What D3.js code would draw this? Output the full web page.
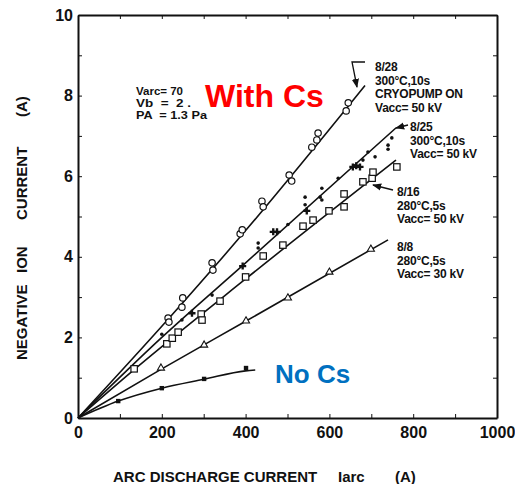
<!DOCTYPE html>
<html>
<head>
  <meta charset="utf-8">
  <title>Negative ion current vs arc discharge current</title>
  <script src="https://d3js.org/d3.v7.min.js"></script>
  <style>
    body { margin: 0; background: #fff; }
    text { font-family: "Liberation Sans", Arial, sans-serif; }
    .axis text { font-size: 16px; font-weight: bold; fill: #111; }
    .axis path, .axis line { stroke: #111; }
    .note { font-size: 12px; font-weight: bold; fill: #111; letter-spacing: -0.2px; }
    .cond { font-size: 10px; font-weight: bold; fill: #111; }
    .title { font-size: 15px; font-weight: bold; fill: #111; }
  </style>
</head>
<body>
<svg class="chart" width="515" height="484"></svg>

<script>
// values: [arc current (A), ion current (A)]
var s828 = [[215,2.48],[217,2.38],[250,2.98],[248,2.75],[320,3.85],[322,3.67],[387,4.57],[392,4.67],
            [439,5.38],[442,5.24],[504,6.03],[510,5.88],[558,6.72],[570,6.90],[573,7.07],[640,7.62],[645,7.82]];
var s825dots = [[200,2.08],[248,2.43],[320,3.05],[430,4.34],[430,4.22],[501,4.80],[542,5.48],[542,5.29],
                [582,5.70],[582,5.41],[578,5.48],[621,5.95],[680,6.40],[692,6.60],[709,6.48],[740,6.77],[740,6.67],[749,6.95]];
var s825cross = [[272,2.60],[393,3.77],[466,4.62],[475,4.62],[546,5.14],[656,6.23],[664,6.26],[673,6.23]];
var s816 = [[134,1.22],[212,1.84],[225,1.98],[239,2.13],[294,2.58],[296,2.43],[339,2.90],[400,3.50],[442,4.02],
            [489,4.29],[537,4.76],[561,4.91],[599,5.14],[635,5.56],[635,5.24],[680,5.86],[702,5.95],[704,6.10],[761,6.23]];
var s88 = [[198,1.24],[301,1.81],[401,2.41],[501,2.98],[600,3.62],[699,4.19]];
var noCs = [[96,0.42],[200,0.74],[301,0.97],[401,1.24]];

// hand-drawn fit curves
var fit828 = [[0,0],[215,2.45],[400,4.65],[685,8.25]];
var fit825 = [[0,0],[200,2.0],[400,3.85],[759,7.2]];
var fit816 = [[0,0],[134,1.2],[400,3.45],[759,6.4]];
var fit88  = [[0,0],[200,1.22],[400,2.4],[740,4.42]];
var fitNoCs = [[0,0],[96,0.42],[200,0.74],[300,0.96],[400,1.17],[423,1.19]];

var xTicks = d3.range(0, 1001, 100);
var yTicks = d3.range(0, 11, 1);

var svg = d3.select(".chart");

var x = d3.scaleLinear().domain([0, 1000]).range([78, 497]);
var y = d3.scaleLinear().domain([0, 10]).range([418, 15]);

// frame with inward ticks on all four sides
svg.append("g").attr("class", "axis")
    .attr("transform", "translate(0," + y(0) + ")")
    .call(d3.axisBottom(x).tickValues(xTicks).tickSizeInner(-4).tickSizeOuter(0).tickPadding(9)
      .tickFormat(function(d) { return d % 200 === 0 ? d : ""; }));
svg.append("g").attr("class", "axis")
    .attr("transform", "translate(" + x(0) + ",0)")
    .call(d3.axisLeft(y).tickValues(yTicks).tickSizeInner(-4).tickSizeOuter(0).tickPadding(5)
      .tickFormat(function(d) { return d % 2 === 0 ? d : ""; }));
svg.append("g").attr("class", "axis")
    .attr("transform", "translate(0," + y(10) + ")")
    .call(d3.axisTop(x).tickValues(xTicks).tickSizeInner(-4).tickSizeOuter(0).tickFormat(""));
svg.append("g").attr("class", "axis")
    .attr("transform", "translate(" + x(1000) + ",0)")
    .call(d3.axisRight(y).tickValues(yTicks).tickSizeInner(-4).tickSizeOuter(0).tickFormat(""));
svg.selectAll(".axis path.domain").attr("stroke-width", 2);

// axis titles, placed word group by word group like the original
[["ARC DISCHARGE CURRENT", 113], ["Iarc", 338], ["(A)", 395]].forEach(function(t) {
  svg.append("text").attr("class", "title").attr("x", t[1]).attr("y", 482).text(t[0]);
});
[["NEGATIVE", 360], ["ION", 273], ["CURRENT", 220], ["(A)", 117]].forEach(function(t) {
  svg.append("text").attr("class", "title")
      .attr("transform", "translate(27," + t[1] + ") rotate(-90)").text(t[0]);
});

// fit lines
var line = d3.line()
    .x(function(d) { return x(d[0]); })
    .y(function(d) { return y(d[1]); })
    .curve(d3.curveMonotoneX);

[fit828, fit825, fit816, fit88, fitNoCs].forEach(function(f) {
  svg.append("path").datum(f)
      .attr("d", line)
      .attr("fill", "none").attr("stroke", "#111").attr("stroke-width", 1.6);
});

// markers
svg.selectAll(".c828").data(s828).enter().append("circle")
    .attr("cx", function(d) { return x(d[0]); })
    .attr("cy", function(d) { return y(d[1]); })
    .attr("r", 3.2).attr("fill", "#fff").attr("stroke", "#111").attr("stroke-width", 1.2);

svg.selectAll(".sq816").data(s816).enter().append("rect")
    .attr("x", function(d) { return x(d[0]) - 3.2; })
    .attr("y", function(d) { return y(d[1]) - 3.2; })
    .attr("width", 6.4).attr("height", 6.4)
    .attr("fill", "#fff").attr("stroke", "#111").attr("stroke-width", 1.2);

svg.selectAll(".d825").data(s825dots).enter().append("circle")
    .attr("cx", function(d) { return x(d[0]); })
    .attr("cy", function(d) { return y(d[1]); })
    .attr("r", 1.8).attr("fill", "#111");

var cross = d3.symbol().type(d3.symbolCross).size(28);
svg.selectAll(".x825").data(s825cross).enter().append("path")
    .attr("transform", function(d) { return "translate(" + x(d[0]) + "," + y(d[1]) + ")"; })
    .attr("d", cross).attr("fill", "#111");

var tri = d3.symbol().type(d3.symbolTriangle).size(22);
svg.selectAll(".t88").data(s88).enter().append("path")
    .attr("transform", function(d) { return "translate(" + x(d[0]) + "," + y(d[1]) + ")"; })
    .attr("d", tri).attr("fill", "#fff").attr("stroke", "#111").attr("stroke-width", 1.1);

svg.selectAll(".nocs").data(noCs).enter().append("rect")
    .attr("x", function(d) { return x(d[0]) - 2.2; })
    .attr("y", function(d) { return y(d[1]) - 2.2; })
    .attr("width", 4.4).attr("height", 4.4).attr("fill", "#111");

// conditions block (small, stretched a bit like the scanned lettering)
[["Varc= 70", 94.5, 47], ["Vb  =  2 .", 106.5, 55], ["PA  = 1.3 Pa", 118.5, 71]].forEach(function(t) {
  svg.append("text").attr("class", "cond").attr("xml:space", "preserve")
      .attr("x", 136).attr("y", t[1])
      .attr("textLength", t[2]).attr("lengthAdjust", "spacingAndGlyphs")
      .text(t[0]);
});

// series labels
var labels = [
  {x: 375, y: 71, lines: ["8/28", "300°C,10s", "CRYOPUMP ON", "Vacc= 50 kV"]},
  {x: 410, y: 131, lines: ["8/25", "300°C,10s", "Vacc= 50 kV"]},
  {x: 397, y: 196, lines: ["8/16", "280°C,5s", "Vacc= 50 kV"]},
  {x: 397, y: 251, lines: ["8/8", "280°C,5s", "Vacc= 30 kV"]}
];
labels.forEach(function(l) {
  var t = svg.append("text").attr("class", "note").attr("x", l.x).attr("y", l.y);
  l.lines.forEach(function(s, i) {
    t.append("tspan").attr("x", l.x).attr("dy", i === 0 ? 0 : 13.5).text(s);
  });
});

// arrows
svg.append("defs").append("marker")
    .attr("id", "head").attr("viewBox", "0 0 10 10")
    .attr("refX", 9).attr("refY", 5)
    .attr("markerWidth", 7).attr("markerHeight", 7)
    .attr("orient", "auto")
  .append("path").attr("d", "M0,1 L10,5 L0,9 Z").attr("fill", "#111");

[
  [[365, 62], [352, 62], [357, 87]],
  [[408, 125], [396, 128]],
  [[393, 190], [373, 185]]
].forEach(function(p) {
  svg.append("path")
      .attr("d", d3.line()(p))
      .attr("fill", "none").attr("stroke", "#111").attr("stroke-width", 1.3)
      .attr("marker-end", "url(#head)");
});

// overlays
svg.append("text")
    .attr("x", 205).attr("y", 107)
    .attr("font-family", "'Open Sans', sans-serif").attr("font-weight", "bold")
    .attr("font-size", 32).attr("fill", "#ff0000")
    .text("With Cs");
svg.append("text")
    .attr("x", 275).attr("y", 383)
    .attr("font-family", "'Open Sans', sans-serif").attr("font-weight", "bold")
    .attr("font-size", 26).attr("fill", "#0070c0")
    .text("No Cs");
</script>
</body>
</html>
